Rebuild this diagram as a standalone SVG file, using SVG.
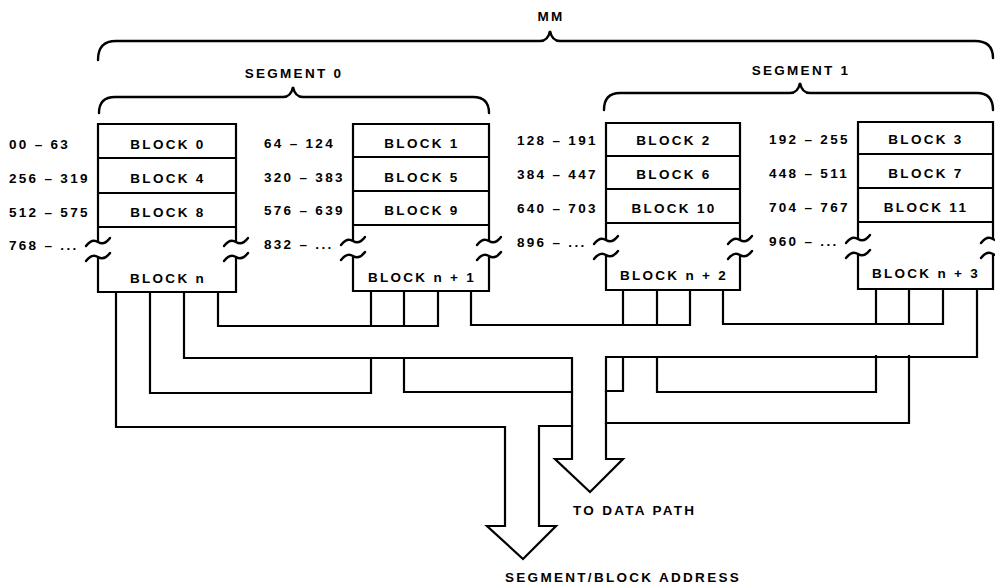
<svg xmlns="http://www.w3.org/2000/svg" xmlns:xlink="http://www.w3.org/1999/xlink" width="995" height="586" viewBox="0 0 995 586">
<style>
.ln{fill:none;stroke:#000;stroke-width:2.2;stroke-linejoin:miter;stroke-linecap:square}
.br{fill:none;stroke:#000;stroke-width:2.4;stroke-linecap:round}
.bx{fill:#fff;stroke:none}
.t{font-family:"Liberation Sans",Arial,Helvetica,sans-serif;font-weight:bold;font-size:13.5px;letter-spacing:2.3px;fill:#000}
.c{text-anchor:middle}
</style>
<defs>
<path id="brk" class="br" d="M-12,4 Q-6,-4 0,0 T12,-4"/>
</defs>
<rect width="995" height="586" fill="#fff"/>

<g id="brace-mm">
<path class="br" d="M98,60 Q98,41 116,41 H540 Q548,41 550,31 Q552,41 560,41 H975 Q993,41 993,58"/>
<text class="t c" x="551" y="21">MM</text>
</g>
<g id="brace-seg0">
<path class="br" d="M99,113 Q99,97 115,97 H283 Q291,97 293,87 Q295,97 303,97 H473 Q489,97 489,113"/>
<text class="t c" x="294" y="78">SEGMENT 0</text>
</g>
<g id="brace-seg1">
<path class="br" d="M604,110 Q604,93 620,93 H790 Q798,93 800,83 Q802,93 810,93 H977 Q993,93 993,110"/>
<text class="t c" x="801" y="75">SEGMENT 1</text>
</g>

<g id="block-col0">
<path class="ln" d="M98,242 V124 H236 V242 M236,257 V292 H98 V257 M98,158 H236 M98,193 H236 M98,227 H236"/>
<use xlink:href="#brk" x="98" y="242"/><use xlink:href="#brk" x="98" y="257"/>
<use xlink:href="#brk" x="236" y="242"/><use xlink:href="#brk" x="236" y="257"/>
<text class="t c" x="168" y="149">BLOCK 0</text>
<text class="t c" x="168" y="183">BLOCK 4</text>
<text class="t c" x="168" y="217">BLOCK 8</text>
<text class="t c" x="168" y="283">BLOCK n</text>
<text class="t" x="9" y="149">00 – 63</text>
<text class="t" x="9" y="183">256 – 319</text>
<text class="t" x="9" y="217">512 – 575</text>
<text class="t" x="9" y="250">768 – ...</text>
</g>

<g id="block-col1">
<path class="ln" d="M353,241 V124 H489 V241 M489,256 V291 H353 V256 M353,157 H489 M353,191 H489 M353,225 H489"/>
<use xlink:href="#brk" x="353" y="241"/><use xlink:href="#brk" x="353" y="256"/>
<use xlink:href="#brk" x="489" y="241"/><use xlink:href="#brk" x="489" y="256"/>
<text class="t c" x="422" y="148">BLOCK 1</text>
<text class="t c" x="422" y="182">BLOCK 5</text>
<text class="t c" x="422" y="215">BLOCK 9</text>
<text class="t c" x="422" y="282">BLOCK n + 1</text>
<text class="t" x="264" y="148">64 – 124</text>
<text class="t" x="264" y="182">320 – 383</text>
<text class="t" x="264" y="215">576 – 639</text>
<text class="t" x="264" y="249">832 – ...</text>
</g>

<g id="block-col2">
<path class="ln" d="M606,240 V123 H740 V240 M740,255 V290 H606 V255 M606,156 H740 M606,189 H740 M606,223 H740"/>
<use xlink:href="#brk" x="606" y="240"/><use xlink:href="#brk" x="606" y="255"/>
<use xlink:href="#brk" x="740" y="240"/><use xlink:href="#brk" x="740" y="255"/>
<text class="t c" x="674" y="145">BLOCK 2</text>
<text class="t c" x="674" y="179">BLOCK 6</text>
<text class="t c" x="674" y="213">BLOCK 10</text>
<text class="t c" x="674" y="280">BLOCK n + 2</text>
<text class="t" x="517" y="145">128 – 191</text>
<text class="t" x="517" y="179">384 – 447</text>
<text class="t" x="517" y="213">640 – 703</text>
<text class="t" x="517" y="247">896 – ...</text>
</g>

<g id="block-col3">
<path class="ln" d="M858,239 V122 H993 V239 M993,254 V289 H858 V254 M858,154 H993 M858,188 H993 M858,222 H993"/>
<use xlink:href="#brk" x="858" y="239"/><use xlink:href="#brk" x="858" y="254"/>
<use xlink:href="#brk" x="993" y="239"/><use xlink:href="#brk" x="993" y="254"/>
<text class="t c" x="926" y="144">BLOCK 3</text>
<text class="t c" x="926" y="178">BLOCK 7</text>
<text class="t c" x="926" y="212">BLOCK 11</text>
<text class="t c" x="926" y="278">BLOCK n + 3</text>
<text class="t" x="769" y="144">192 – 255</text>
<text class="t" x="769" y="178">448 – 511</text>
<text class="t" x="769" y="212">704 – 767</text>
<text class="t" x="769" y="246">960 – ...</text>
</g>

<g id="connectors">
<path class="ln" d="M116,292 V427 H505 V526 H487 L523,559 L556,526 H539 V426 H572"/>
<path class="ln" d="M150,292 V393 H371 V358"/>
<path class="ln" d="M184,292 V358 H572 V459 H555 L590,492 L623,459 H606 V357 H977 V289"/>
<path class="ln" d="M218,292 V326 H438 V291"/>
<path class="ln" d="M371,291 V326 M404,291 V326"/>
<path class="ln" d="M404,358 V392 H572"/>
<path class="ln" d="M471,291 V325 H690 V290"/>
<path class="ln" d="M623,290 V325 M657,290 V325"/>
<path class="ln" d="M623,357 V391 H606"/>
<path class="ln" d="M657,357 V392 H876 V356"/>
<path class="ln" d="M723,290 V324 H943 V289"/>
<path class="ln" d="M876,289 V324 M909,289 V324"/>
<path class="ln" d="M909,356 V423 H606"/>
</g>

<g id="arrow-labels">
<text class="t" x="573" y="515">TO DATA PATH</text>
<text class="t" x="505" y="582">SEGMENT/BLOCK ADDRESS</text>
</g>
</svg>
